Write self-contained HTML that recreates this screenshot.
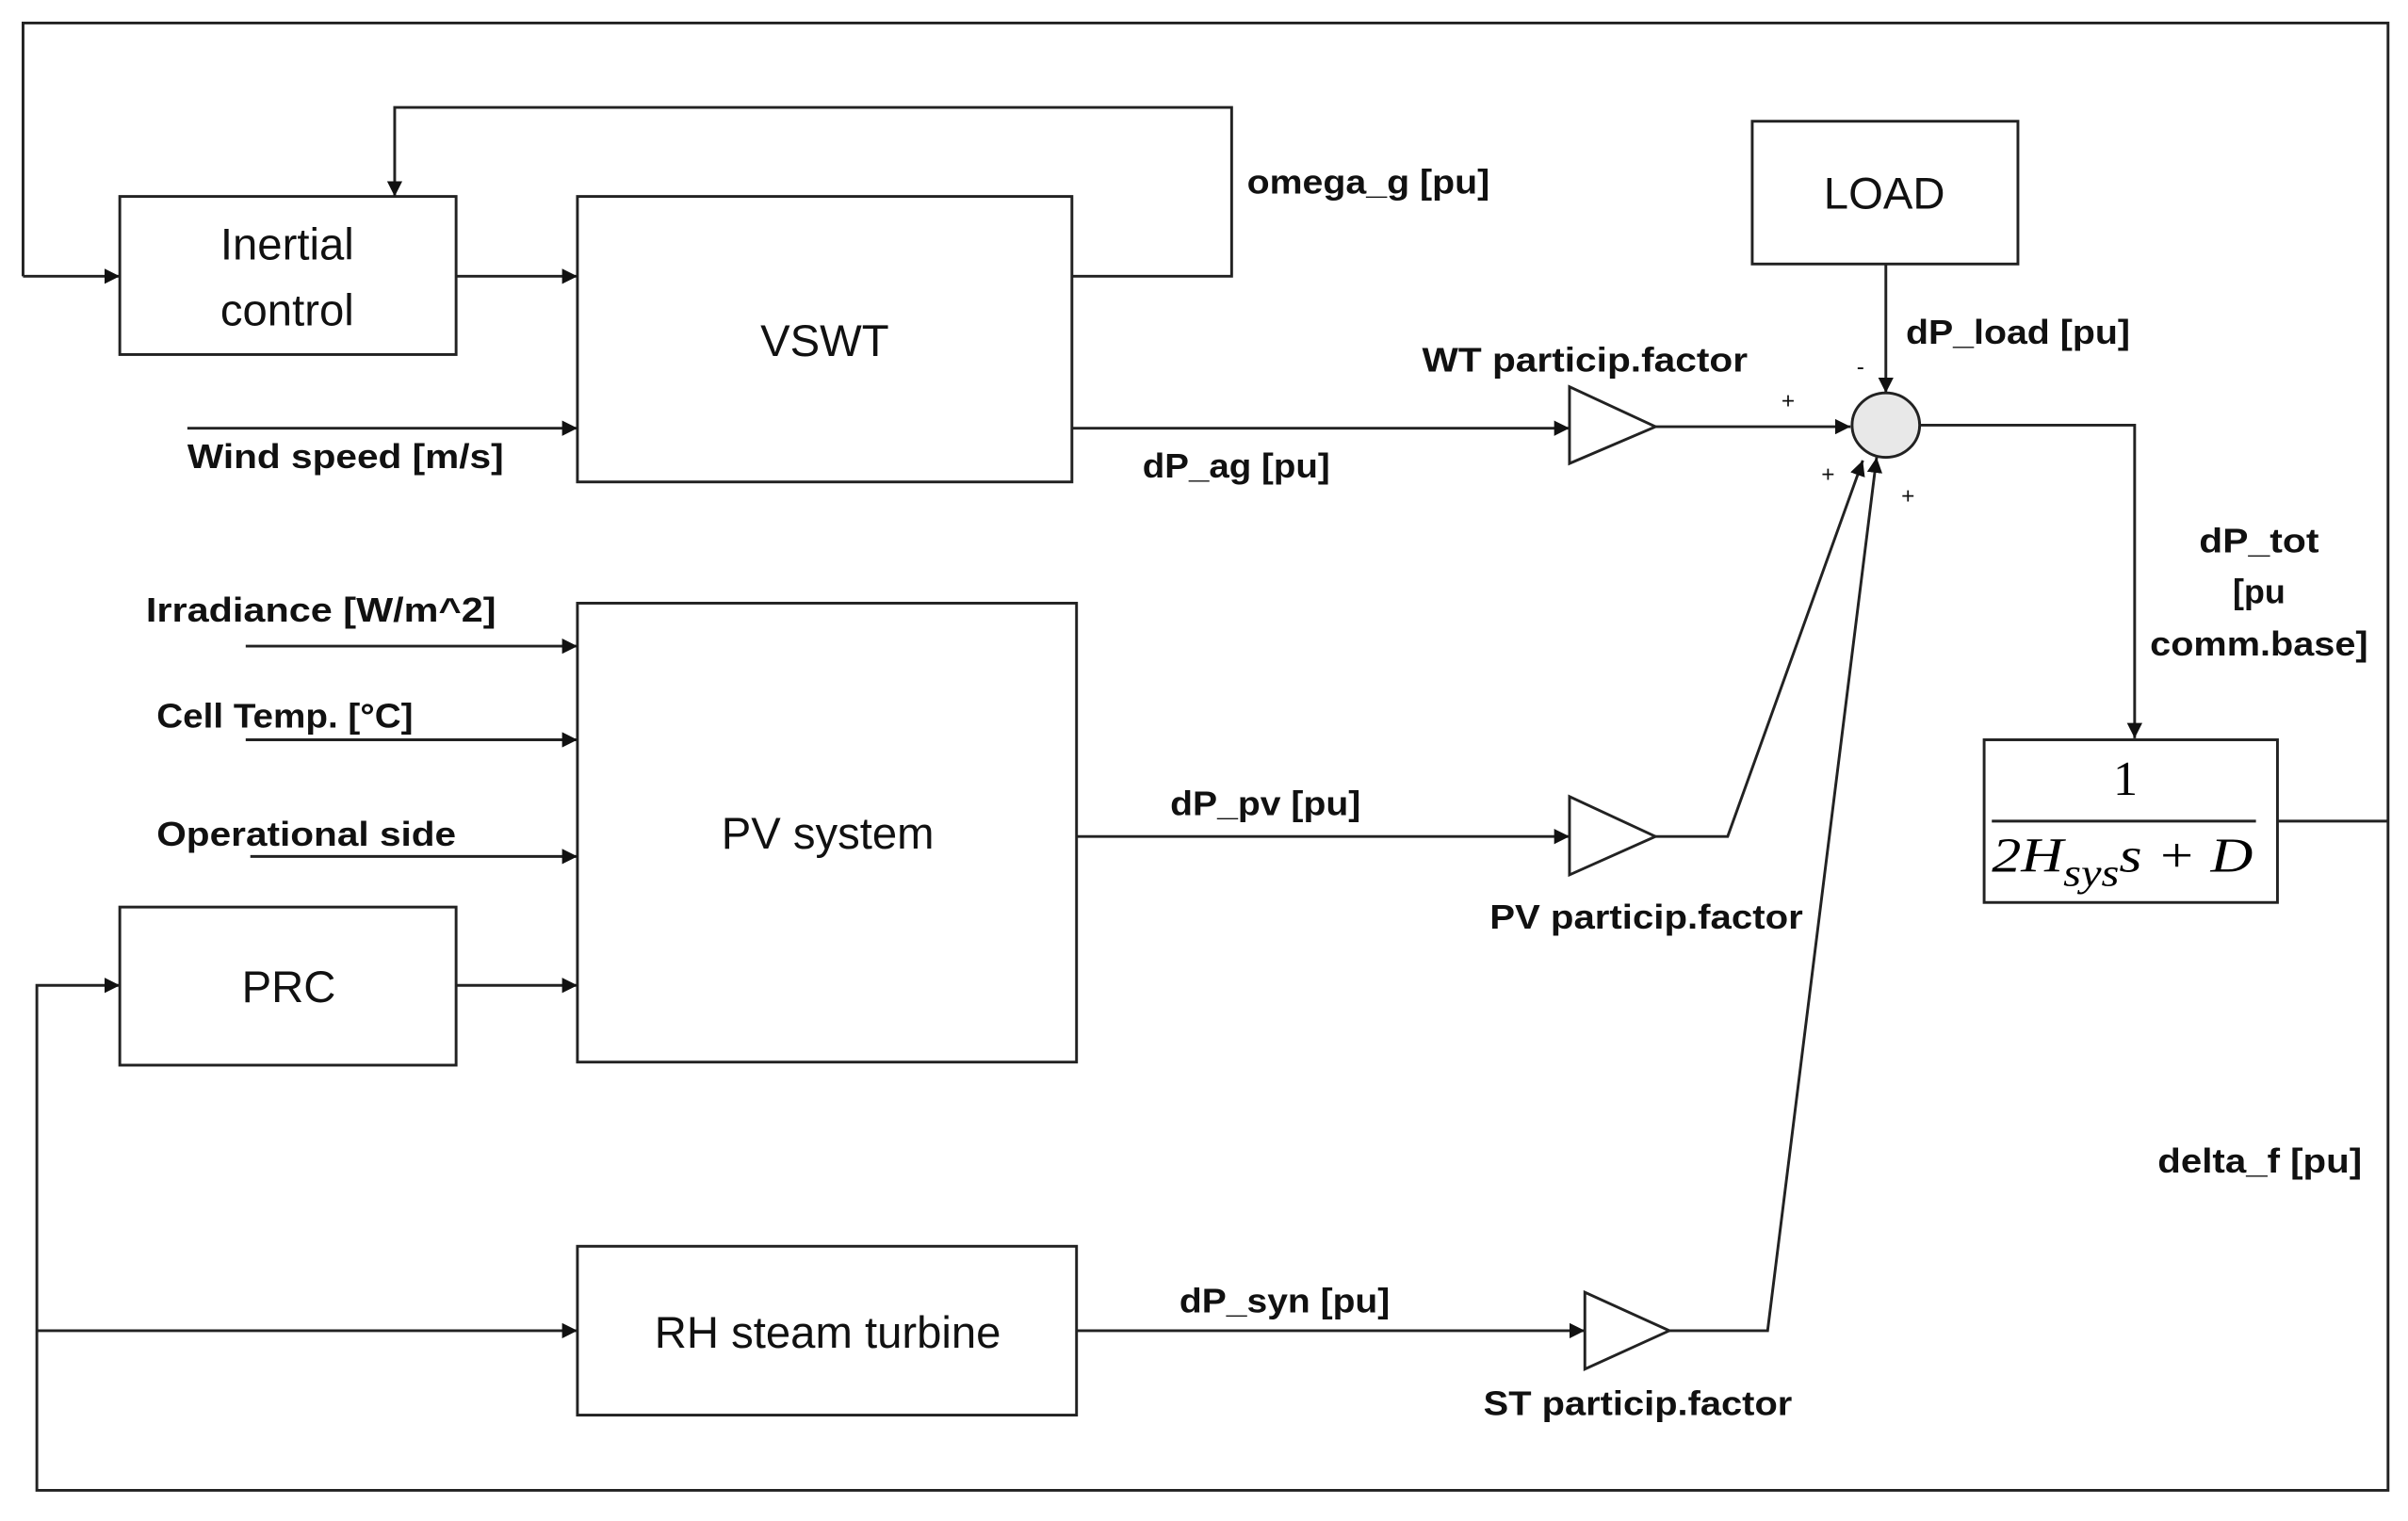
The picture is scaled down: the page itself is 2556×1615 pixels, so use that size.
<!DOCTYPE html>
<html><head><meta charset="utf-8"><style>
html,body{margin:0;padding:0;background:#fff;}
svg{display:block;}
.l{font-family:"Liberation Sans",sans-serif;font-weight:bold;font-size:22px;fill:#111;}
.b{font-family:"Liberation Sans",sans-serif;font-size:29px;fill:#111;}
</style></head><body>
<svg width="2556" height="1615" viewBox="0 0 1568 991" preserveAspectRatio="none" xmlns="http://www.w3.org/2000/svg">
<defs><marker id="a" viewBox="0 0 10 10" refX="10" refY="5" markerWidth="10" markerHeight="10" markerUnits="userSpaceOnUse" orient="auto"><path d="M0,0L10,5L0,10z" fill="#111"/></marker></defs>
<g fill="none" stroke="#222" stroke-width="1.8">
<polyline points="1483,535 1555,535"/>
<polyline points="15,180 15,15 1555,15 1555,971 24,971 24,642 78,642" marker-end="url(#a)"/>
<line x1="15" y1="180" x2="78" y2="180" marker-end="url(#a)"/>
<line x1="24" y1="867" x2="376" y2="867" marker-end="url(#a)"/>
<rect x="78" y="128" width="219" height="103"/>
<rect x="376" y="128" width="322" height="186"/>
<rect x="376" y="393" width="325" height="299"/>
<rect x="78" y="591" width="219" height="103"/>
<rect x="376" y="812" width="325" height="110"/>
<rect x="1141" y="79" width="173" height="93"/>
<rect x="1292" y="482" width="191" height="106"/>
<line x1="1297" y1="535" x2="1469" y2="535"/>
<line x1="297" y1="180" x2="376" y2="180" marker-end="url(#a)"/>
<polyline points="698,180 802,180 802,70 257,70 257,128" marker-end="url(#a)"/>
<line x1="122" y1="279" x2="376" y2="279" marker-end="url(#a)"/>
<line x1="698" y1="279" x2="1022" y2="279" marker-end="url(#a)"/>
<line x1="160" y1="421" x2="376" y2="421" marker-end="url(#a)"/>
<line x1="160" y1="482" x2="376" y2="482" marker-end="url(#a)"/>
<line x1="163" y1="558" x2="376" y2="558" marker-end="url(#a)"/>
<line x1="297" y1="642" x2="376" y2="642" marker-end="url(#a)"/>
<line x1="701" y1="545" x2="1022" y2="545" marker-end="url(#a)"/>
<line x1="701" y1="867" x2="1032" y2="867" marker-end="url(#a)"/>
<line x1="1078" y1="278" x2="1205" y2="278" marker-end="url(#a)"/>
<line x1="1228" y1="172" x2="1228" y2="256" marker-end="url(#a)"/>
<polyline points="1250,277 1390,277 1390,481" marker-end="url(#a)"/>
<polyline points="1078,545 1125,545 1213,300" marker-end="url(#a)"/>
<polyline points="1087,867 1151,867 1222,298" marker-end="url(#a)"/>
<polygon points="1022,252 1022,302 1078,278"/>
<polygon points="1022,519 1022,570 1078,545"/>
<polygon points="1032,842 1032,892 1087,867"/>
<ellipse cx="1228" cy="277" rx="22" ry="21" fill="#e8e8e8"/>
</g>
<g class="b" text-anchor="middle">
<text x="187" y="169">Inertial</text>
<text x="187" y="212">control</text>
<text x="537" y="232">VSWT</text>
<text x="539" y="553">PV system</text>
<text x="188" y="653">PRC</text>
<text x="539" y="878">RH steam turbine</text>
<text x="1227" y="136">LOAD</text>
</g>
<text x="1384" y="518" text-anchor="middle" font-family="Liberation Serif,serif" font-size="32">1</text>
<text x="1297" y="568" font-family="Liberation Serif,serif" font-style="italic" font-size="32" textLength="170" lengthAdjust="spacingAndGlyphs">2H<tspan font-size="25" dy="9">sys</tspan><tspan dy="-9">s + D</tspan></text>
<g class="l">
<text x="812" y="126" textLength="158" lengthAdjust="spacingAndGlyphs">omega_g [pu]</text>
<text x="122" y="305" textLength="206" lengthAdjust="spacingAndGlyphs">Wind speed [m/s]</text>
<text x="744" y="311" textLength="122" lengthAdjust="spacingAndGlyphs">dP_ag [pu]</text>
<text x="926" y="242" textLength="212" lengthAdjust="spacingAndGlyphs">WT particip.factor</text>
<text x="1241" y="224" textLength="146" lengthAdjust="spacingAndGlyphs">dP_load [pu]</text>
<text x="1471" y="360" text-anchor="middle" textLength="78" lengthAdjust="spacingAndGlyphs">dP_tot</text>
<text x="1471" y="393" text-anchor="middle">[pu</text>
<text x="1471" y="427" text-anchor="middle" textLength="142" lengthAdjust="spacingAndGlyphs">comm.base]</text>
<text x="1405" y="764" textLength="133" lengthAdjust="spacingAndGlyphs">delta_f [pu]</text>
<text x="95" y="405" textLength="228" lengthAdjust="spacingAndGlyphs">Irradiance [W/m^2]</text>
<text x="102" y="474" textLength="167" lengthAdjust="spacingAndGlyphs">Cell Temp. [°C]</text>
<text x="102" y="551" textLength="195" lengthAdjust="spacingAndGlyphs">Operational side</text>
<text x="762" y="531" textLength="124" lengthAdjust="spacingAndGlyphs">dP_pv [pu]</text>
<text x="970" y="605" textLength="204" lengthAdjust="spacingAndGlyphs">PV particip.factor</text>
<text x="768" y="855" textLength="137" lengthAdjust="spacingAndGlyphs">dP_syn [pu]</text>
<text x="966" y="922" textLength="201" lengthAdjust="spacingAndGlyphs">ST particip.factor</text>
</g>
<g font-family="Liberation Sans,sans-serif" font-size="15" fill="#111">
<text x="1209" y="244">-</text>
<text x="1160" y="266">+</text>
<text x="1186" y="314">+</text>
<text x="1238" y="328">+</text>
</g>
</svg>
</body></html>
